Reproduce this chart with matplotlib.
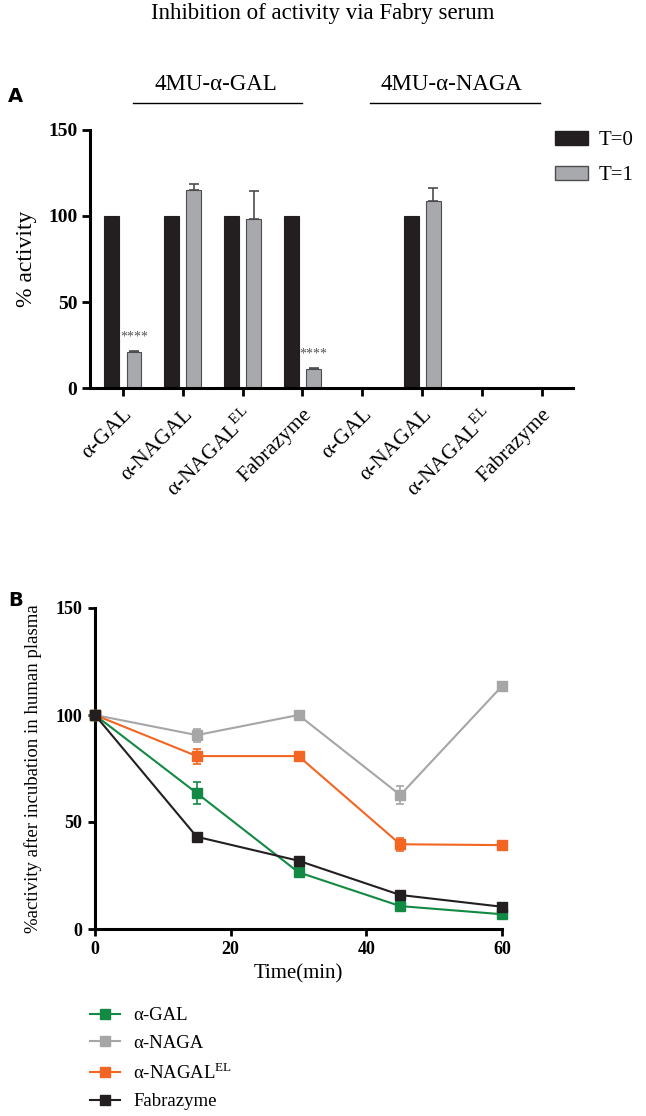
import numpy as np
import matplotlib
matplotlib.use("Agg")
import matplotlib.pyplot as plt
from matplotlib.patches import Patch
from matplotlib.lines import Line2D

plt.rcParams['font.family'] = ['Liberation Serif', 'DejaVu Serif']
plt.rcParams['mathtext.fontset'] = 'custom'
plt.rcParams['mathtext.rm'] = 'Liberation Serif'

# ---- panel A data ----
cats_a = ['α-GAL', 'α-NAGAL', 'α-NAGAL$^{\\mathrm{EL}}$', 'Fabrazyme',
          'α-GAL', 'α-NAGAL', 'α-NAGAL$^{\\mathrm{EL}}$', 'Fabrazyme']
t0 = [100, 100, 100, 100, np.nan, 100, np.nan, np.nan]
t1 = [21, 115, 98, 11, np.nan, 108.5, np.nan, np.nan]
t1_err = [0.6, 3.5, 16.5, 0.5, np.nan, 8, np.nan, np.nan]
stars = {0: '****', 3: '****'}

# ---- panel B data ----
time = [0, 15, 30, 45, 60]
gal = [100, 63.5, 26.5, 10.7, 6.9]
gal_err = [0, 5, 1, 1, 0.5]
naga = [100, 90.6, 100, 62.6, 113.5]
naga_err = [0, 3, 0.5, 4, 0.5]
nagal_el = [100, 80.8, 80.8, 39.6, 39.2]
nagal_el_err = [0, 3.5, 0.5, 3, 0.5]
fabra = [100, 43.1, 31.9, 15.9, 10.4]
fabra_err = [0, 0.5, 0.5, 0.5, 0.5]

W, H = 646, 1116
fig = plt.figure(figsize=(W / 100, H / 100), dpi=100)


def fx(px):
    return px / W


def fy(py):
    return 1 - py / H


fig.text(0.5, fy(14), 'Inhibition of activity via Fabry serum', ha='center', va='center', fontsize=16.5)
fig.text(fx(8), fy(96), 'A', fontsize=14, fontweight='bold', family='DejaVu Sans', va='center')
fig.text(fx(8), fy(601), 'B', fontsize=14, fontweight='bold', family='DejaVu Sans', va='center')

# group headers
for label, cx, x0, x1 in [('4MU-α-GAL', 216, 133, 302), ('4MU-α-NAGA', 451, 370, 540)]:
    fig.text(fx(cx), fy(84), label, ha='center', va='center', fontsize=16.5)
    fig.add_artist(Line2D([fx(x0), fx(x1)], [fy(103), fy(103)], color='black', lw=1))

# ---- panel A ----
axA = fig.add_axes([fx(90), fy(388), fx(573) - fx(90), fy(130) - fy(388)])
x = np.arange(len(cats_a))
off = 0.185
bw = 0.25
axA.bar(x - off, t0, bw, color='#231f20', edgecolor='#231f20', lw=0.8)
err = np.array(t1_err)
axA.bar(x + off, t1, bw, color='#a7a9ac', edgecolor='#4d4d4f', lw=0.8,
        yerr=[np.zeros_like(err), err], ecolor='#4d4d4f',
        error_kw=dict(capsize=3.5, elinewidth=1.2, capthick=1.2))
for i, s in stars.items():
    axA.text(x[i] + off, t1[i] + 5, s, ha='center', va='bottom', fontsize=10, color='#555555')

axA.set_xlim(-0.55, 7.52)
axA.set_ylim(0, 150)
axA.set_yticks([0, 50, 100, 150])
axA.set_xticks(x)
axA.set_xticklabels(cats_a, rotation=45, ha='right', rotation_mode='anchor', fontsize=15.5)
for lab in axA.get_yticklabels():
    lab.set_fontweight('bold')
    lab.set_fontsize(14)
axA.set_ylabel('% activity', fontsize=17, labelpad=8)
for sp in ['top', 'right']:
    axA.spines[sp].set_visible(False)
for sp in ['left', 'bottom']:
    axA.spines[sp].set_linewidth(2.2)
axA.tick_params(width=2, length=6, pad=3)
axA.tick_params(axis='x', pad=6)

fig.legend(handles=[Patch(facecolor='#231f20', edgecolor='#231f20', label='T=0'),
                    Patch(facecolor='#a7a9ac', edgecolor='#4d4d4f', label='T=1')],
           loc='upper left', bbox_to_anchor=(fx(555), fy(131)), frameon=False,
           fontsize=15, handlelength=1.6, handleheight=0.65, labelspacing=0.75,
           handletextpad=0.5, borderpad=0, borderaxespad=0)

# ---- panel B ----
axB = fig.add_axes([fx(95), fy(929), fx(502) - fx(95), fy(608) - fy(929)])
series = [('α-GAL', gal, gal_err, '#138a43'),
          ('α-NAGA', naga, naga_err, '#a6a6a6'),
          ('α-NAGAL$^{\\mathrm{EL}}$', nagal_el, nagal_el_err, '#f26522'),
          ('Fabrazyme', fabra, fabra_err, '#231f20')]
handles = []
for name, vals, e, c in series:
    axB.errorbar(time, vals, yerr=e, color=c, lw=1.5, marker='s', ms=6.5,
                 capsize=3, elinewidth=1.2, capthick=1.2, clip_on=False, zorder=3)
    handles.append(Line2D([], [], color=c, lw=1.5, marker='s', ms=6.5, label=name))

axB.set_xlim(0, 60)
axB.set_ylim(0, 150)
axB.set_xticks([0, 20, 40, 60])
axB.set_yticks([0, 50, 100, 150])
for lab in axB.get_xticklabels() + axB.get_yticklabels():
    lab.set_fontweight('bold')
    lab.set_fontsize(13)
axB.set_xlabel('Time(min)', fontsize=15, labelpad=4)
axB.set_ylabel('%activity after incubation in human plasma', fontsize=13.5, labelpad=10)
for sp in ['top', 'right']:
    axB.spines[sp].set_visible(False)
for sp in ['left', 'bottom']:
    axB.spines[sp].set_linewidth(2.2)
axB.tick_params(width=2, length=5, pad=4)

fig.legend(handles=handles, loc='upper left', bbox_to_anchor=(fx(90), fy(1007)),
           frameon=False, fontsize=13.5, handlelength=1.6, labelspacing=0.55,
           handletextpad=0.7, borderpad=0, borderaxespad=0)

fig.savefig('out.png', dpi=100)
